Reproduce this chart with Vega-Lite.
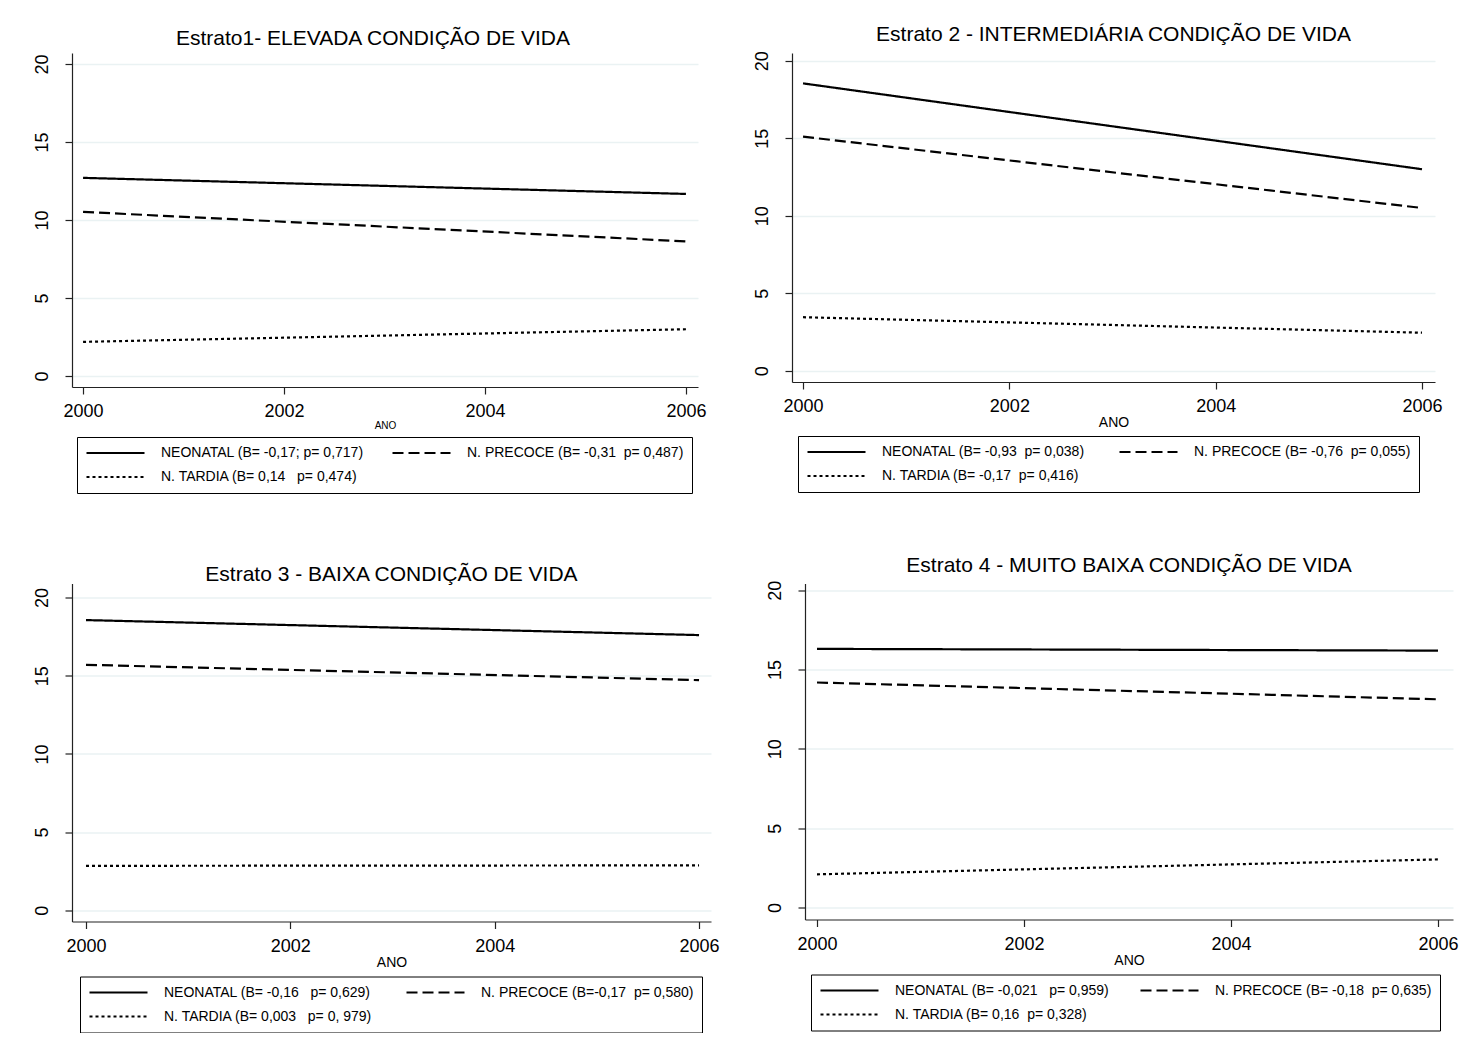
{
  "$schema": "https://vega.github.io/schema/vega-lite/v6.json",
  "padding": {"left": 32, "top": 24, "right": 0, "bottom": 0},
  "background": "white",
  "datasets": {
    "d": [
      {"painel": 1, "ano": 2000, "serie": "NEONATAL", "valor": 12.7},
      {"painel": 1, "ano": 2006, "serie": "NEONATAL", "valor": 11.67},
      {"painel": 1, "ano": 2000, "serie": "PRECOCE", "valor": 10.52},
      {"painel": 1, "ano": 2006, "serie": "PRECOCE", "valor": 8.63},
      {"painel": 1, "ano": 2000, "serie": "TARDIA", "valor": 2.19},
      {"painel": 1, "ano": 2006, "serie": "TARDIA", "valor": 3.0},
      {"painel": 2, "ano": 2000, "serie": "NEONATAL", "valor": 18.54},
      {"painel": 2, "ano": 2006, "serie": "NEONATAL", "valor": 13.0},
      {"painel": 2, "ano": 2000, "serie": "PRECOCE", "valor": 15.1},
      {"painel": 2, "ano": 2006, "serie": "PRECOCE", "valor": 10.5},
      {"painel": 2, "ano": 2000, "serie": "TARDIA", "valor": 3.45},
      {"painel": 2, "ano": 2006, "serie": "TARDIA", "valor": 2.45},
      {"painel": 3, "ano": 2000, "serie": "NEONATAL", "valor": 18.56},
      {"painel": 3, "ano": 2006, "serie": "NEONATAL", "valor": 17.6},
      {"painel": 3, "ano": 2000, "serie": "PRECOCE", "valor": 15.7},
      {"painel": 3, "ano": 2006, "serie": "PRECOCE", "valor": 14.72},
      {"painel": 3, "ano": 2000, "serie": "TARDIA", "valor": 2.84},
      {"painel": 3, "ano": 2006, "serie": "TARDIA", "valor": 2.87},
      {"painel": 4, "ano": 2000, "serie": "NEONATAL", "valor": 16.3},
      {"painel": 4, "ano": 2006, "serie": "NEONATAL", "valor": 16.19},
      {"painel": 4, "ano": 2000, "serie": "PRECOCE", "valor": 14.18},
      {"painel": 4, "ano": 2006, "serie": "PRECOCE", "valor": 13.12},
      {"painel": 4, "ano": 2000, "serie": "TARDIA", "valor": 2.09},
      {"painel": 4, "ano": 2006, "serie": "TARDIA", "valor": 3.03}
    ]
  },
  "config": {
    "font": "Liberation Sans",
    "view": {"stroke": null},
    "title": {"font": "Liberation Sans", "fontSize": 21, "fontWeight": "normal", "color": "black", "baseline": "alphabetic", "anchor": "middle"},
    "axis": {
      "labelFont": "Liberation Sans", "labelFontSize": 18, "labelColor": "black",
      "titleFont": "Liberation Sans", "titleFontWeight": "normal", "titleColor": "black",
      "domainColor": "#222222", "domainWidth": 1.2, "tickColor": "#222222", "tickWidth": 1.2, "tickSize": 7,
      "gridColor": "#EAF2F3", "gridWidth": 1.5
    },
    "axisX": {"grid": false, "labelPadding": 8.5, "labelFlush": false, "labelOverlap": false, "titlePadding": 0, "titleFontSize": 14},
    "axisY": {"grid": true, "labelAngle": -90, "labelAlign": "center", "labelBaseline": "bottom", "labelPadding": 14, "labelOverlap": false, "labelFlush": false},
    "legend": {
      "orient": "none",
      "direction": "horizontal",
      "columns": 2,
      "symbolType": "stroke",
      "symbolSize": 3364,
      "symbolStrokeColor": "black",
      "symbolStrokeWidth": 2,
      "clipHeight": 16,
      "labelFont": "Liberation Sans",
      "labelFontSize": 14,
      "labelColor": "black",
      "labelOffset": 15,
      "labelLimit": 500,
      "rowPadding": 8,
      "padding": 8,
      "strokeColor": "black",
      "strokeWidth": 1,
      "gridAlign": "each"
    }
  },
  "spacing": 60.5,
  "resolve": {
    "scale": {"x": "independent", "y": "independent", "strokeDash": "independent", "strokeWidth": "independent"},
    "axis": {"x": "independent", "y": "independent"},
    "legend": {"strokeDash": "independent", "strokeWidth": "independent"}
  },
  "vconcat": [
    {
      "bounds": "flush",
      "spacing": 94,
      "resolve": {
        "scale": {"x": "independent", "y": "independent", "strokeDash": "independent", "strokeWidth": "independent"},
        "axis": {"x": "independent", "y": "independent"},
        "legend": {"strokeDash": "independent", "strokeWidth": "independent"}
      },
      "hconcat": [
        {
          "width": 626, "height": 334,
          "title": {"text": "Estrato1- ELEVADA CONDIÇÃO DE VIDA", "offset": 4, "dx": -12},
          "data": {"name": "d"},
          "transform": [{"filter": "datum.painel == 1"}],
          "mark": {"type": "line", "color": "black"},
          "encoding": {
            "x": {"field": "ano", "type": "quantitative", "scale": {"domain": [1999.89, 2006.12], "nice": false, "zero": false}, "axis": {"values": [2000, 2002, 2004, 2006], "format": "d", "title": "ANO", "titleFontSize": 10}},
            "y": {"field": "valor", "type": "quantitative", "scale": {"domain": [-0.7, 20.7], "nice": false, "zero": false}, "axis": {"values": [0, 5, 10, 15, 20], "title": null}},
            "strokeDash": {"field": "serie", "type": "nominal", "scale": {"domain": ["NEONATAL", "PRECOCE", "TARDIA"], "range": [[1, 0], [11, 5], [3, 3]]},
              "legend": {"title": null, "legendX": 5, "legendY": 384, "columnPadding": 27,
                "labelExpr": "{'NEONATAL': 'NEONATAL (B= -0,17; p= 0,717)', 'PRECOCE': 'N. PRECOCE (B= -0,31 \u00a0p= 0,487)', 'TARDIA': 'N. TARDIA (B= 0,14 \u00a0 p= 0,474)'}[datum.label]"}},
            "strokeWidth": {"field": "serie", "type": "nominal", "scale": {"domain": ["NEONATAL", "PRECOCE", "TARDIA"], "range": [2.2, 2.2, 1.6]}, "legend": null}
          }
        },
        {
          "width": 643, "height": 329,
          "title": {"text": "Estrato 2 - INTERMEDIÁRIA CONDIÇÃO DE VIDA", "offset": 5.7},
          "data": {"name": "d"},
          "transform": [{"filter": "datum.painel == 2"}],
          "mark": {"type": "line", "color": "black"},
          "encoding": {
            "x": {"field": "ano", "type": "quantitative", "scale": {"domain": [1999.893, 2006.126], "nice": false, "zero": false}, "axis": {"values": [2000, 2002, 2004, 2006], "format": "d", "title": "ANO"}},
            "y": {"field": "valor", "type": "quantitative", "scale": {"domain": [-0.73, 20.5], "nice": false, "zero": false}, "axis": {"values": [0, 5, 10, 15, 20], "title": null}},
            "strokeDash": {"field": "serie", "type": "nominal", "scale": {"domain": ["NEONATAL", "PRECOCE", "TARDIA"], "range": [[1, 0], [11, 5], [3, 3]]},
              "legend": {"title": null, "legendX": 6, "legendY": 383, "columnPadding": 33,
                "labelExpr": "{'NEONATAL': 'NEONATAL (B= -0,93 \u00a0p= 0,038)', 'PRECOCE': 'N. PRECOCE (B= -0,76 \u00a0p= 0,055)', 'TARDIA': 'N. TARDIA (B= -0,17 \u00a0p= 0,416)'}[datum.label]"}},
            "strokeWidth": {"field": "serie", "type": "nominal", "scale": {"domain": ["NEONATAL", "PRECOCE", "TARDIA"], "range": [2.2, 2.2, 1.6]}, "legend": null}
          }
        }
      ]
    },
    {
      "bounds": "flush",
      "spacing": 94,
      "resolve": {
        "scale": {"x": "independent", "y": "independent", "strokeDash": "independent", "strokeWidth": "independent"},
        "axis": {"x": "independent", "y": "independent"},
        "legend": {"strokeDash": "independent", "strokeWidth": "independent"}
      },
      "hconcat": [
        {
          "width": 639, "height": 338,
          "title": {"text": "Estrato 3 - BAIXA CONDIÇÃO DE VIDA", "offset": -1},
          "data": {"name": "d"},
          "transform": [{"filter": "datum.painel == 3"}],
          "mark": {"type": "line", "color": "black"},
          "encoding": {
            "x": {"field": "ano", "type": "quantitative", "scale": {"domain": [1999.863, 2006.117], "nice": false, "zero": false}, "axis": {"values": [2000, 2002, 2004, 2006], "format": "d", "title": "ANO"}},
            "y": {"field": "valor", "type": "quantitative", "scale": {"domain": [-0.72, 20.9], "nice": false, "zero": false}, "axis": {"values": [0, 5, 10, 15, 20], "title": null}},
            "strokeDash": {"field": "serie", "type": "nominal", "scale": {"domain": ["NEONATAL", "PRECOCE", "TARDIA"], "range": [[1, 0], [11, 5], [3, 3]]},
              "legend": {"title": null, "legendX": 8, "legendY": 393, "columnPadding": 32,
                "labelExpr": "{'NEONATAL': 'NEONATAL (B= -0,16 \u00a0 p= 0,629)', 'PRECOCE': 'N. PRECOCE (B=-0,17 \u00a0p= 0,580)', 'TARDIA': 'N. TARDIA (B= 0,003 \u00a0 p= 0, 979)'}[datum.label]"}},
            "strokeWidth": {"field": "serie", "type": "nominal", "scale": {"domain": ["NEONATAL", "PRECOCE", "TARDIA"], "range": [2.2, 2.2, 1.6]}, "legend": null}
          }
        },
        {
          "width": 648, "height": 336,
          "title": {"text": "Estrato 4 - MUITO BAIXA CONDIÇÃO DE VIDA", "offset": 4.6},
          "data": {"name": "d"},
          "transform": [{"filter": "datum.painel == 4"}],
          "mark": {"type": "line", "color": "black"},
          "encoding": {
            "x": {"field": "ano", "type": "quantitative", "scale": {"domain": [1999.884, 2006.145], "nice": false, "zero": false}, "axis": {"values": [2000, 2002, 2004, 2006], "format": "d", "title": "ANO"}},
            "y": {"field": "valor", "type": "quantitative", "scale": {"domain": [-0.756, 20.42], "nice": false, "zero": false}, "axis": {"values": [0, 5, 10, 15, 20], "title": null}},
            "strokeDash": {"field": "serie", "type": "nominal", "scale": {"domain": ["NEONATAL", "PRECOCE", "TARDIA"], "range": [[1, 0], [11, 5], [3, 3]]},
              "legend": {"title": null, "legendX": 6, "legendY": 391, "columnPadding": 29,
                "labelExpr": "{'NEONATAL': 'NEONATAL (B= -0,021 \u00a0 p= 0,959)', 'PRECOCE': 'N. PRECOCE (B= -0,18 \u00a0p= 0,635)', 'TARDIA': 'N. TARDIA (B= 0,16 \u00a0p= 0,328)'}[datum.label]"}},
            "strokeWidth": {"field": "serie", "type": "nominal", "scale": {"domain": ["NEONATAL", "PRECOCE", "TARDIA"], "range": [2.2, 2.2, 1.6]}, "legend": null}
          }
        }
      ]
    }
  ]
}
